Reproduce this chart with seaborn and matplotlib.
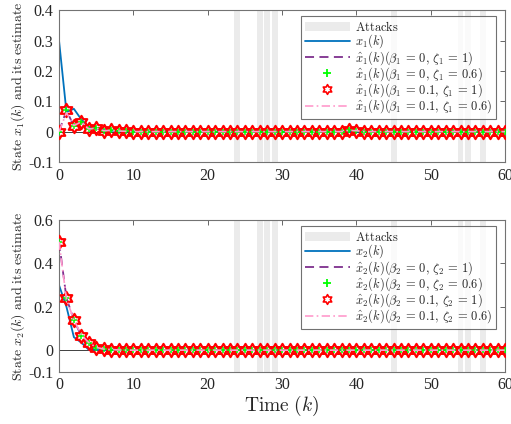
import numpy as np
import pandas as pd
import matplotlib
matplotlib.use("Agg")
import matplotlib.pyplot as plt
from matplotlib.path import Path
from matplotlib.lines import Line2D
from matplotlib.patches import Patch
import seaborn as sns

# time axis
k = list(range(61))

# attack instants (grey bands)
attacks = [24, 27, 28, 29, 45, 54, 55, 57]

# state 1 and its estimates
x1_true = [0.3, 0.065, 0.075, 0.04, 0.016, 0.01, 0.005, 0.003, 0.002, 0.001] + [0.0] * 51
x1_b0_z1 = [0.0, 0.07, 0.018, 0.033, 0.008, 0.012, 0.003, 0.004, 0.002, 0.001] + [0.0] * 29 + [0.004, 0.003] + [0.0] * 20
x1_b0_z06 = [0.0, 0.07, 0.018, 0.033, 0.008, 0.012, 0.003, 0.004, 0.002, 0.001] + [0.0] * 29 + [0.004, 0.003] + [0.0] * 20
x1_b01_z1 = [0.0, 0.07, 0.018, 0.033, 0.008, 0.012, 0.003, 0.004, 0.002, 0.001] + [0.0] * 29 + [0.004, 0.003] + [0.0] * 20
x1_b01_z06 = [0.0, 0.062, 0.02, 0.032, 0.009, 0.011, 0.003, 0.004, 0.002, 0.001] + [0.0] * 29 + [0.004, 0.003] + [0.0] * 20

# state 2 and its estimates
x2_true = [0.3, 0.2, 0.06, 0.035, 0.002, 0.001] + [0.0] * 55
x2_b0_z1 = [0.5, 0.24, 0.14, 0.065, 0.035, 0.012, 0.005, 0.003, 0.001] + [0.0] * 52
x2_b0_z06 = [0.5, 0.24, 0.14, 0.065, 0.035, 0.012, 0.005, 0.003, 0.001] + [0.0] * 52
x2_b01_z1 = [0.5, 0.24, 0.14, 0.065, 0.035, 0.012, 0.005, 0.003, 0.001] + [0.0] * 52
x2_b01_z06 = [0.5, 0.235, 0.14, 0.07, 0.035, 0.013, 0.005, 0.003, 0.001] + [0.0] * 52

y1_ticks = [-0.1, 0, 0.1, 0.2, 0.3, 0.4]
y1_labels = ["-0.1", "0", "0.1", "0.2", "0.3", "0.4"]
y2_ticks = [-0.1, 0, 0.2, 0.4, 0.6]
y2_labels = ["-0.1", "0", "0.2", "0.4", "0.6"]
x_ticks = [0, 10, 20, 30, 40, 50, 60]

sns.set_theme(style="white")
plt.rcParams["font.family"] = ["Liberation Serif", "DejaVu Serif"]
plt.rcParams["mathtext.fontset"] = "cm"

BLUE = (0.0, 0.447, 0.741)
PURPLE = (0.494, 0.184, 0.556)
GREEN = (0.0, 1.0, 0.0)
RED = (1.0, 0.0, 0.0)
PINK = (1.0, 0.6, 0.8)
GREY = (0.92, 0.92, 0.92)

hexagram = Path.unit_regular_star(6, 0.577)

fig = plt.figure(figsize=(5.11, 4.24), dpi=100)
ax1 = fig.add_axes([0.1155, 0.618, 0.873, 0.358])
ax2 = fig.add_axes([0.1155, 0.123, 0.873, 0.358])


def draw_panel(ax, i, true, e1, e2, e3, e4, yticks, ylabels, ylim):
    for a in attacks:
        ax.axvspan(a - 0.4, a + 0.4, color=GREY, lw=0, zorder=0)
    ax.axhline(0, color="0.25", lw=0.7, zorder=1)
    df = pd.DataFrame({"k": k, "true": true, "e1": e1, "e2": e2, "e3": e3, "e4": e4})
    sns.lineplot(data=df, x="k", y="true", ax=ax, color=BLUE, lw=1.3, zorder=2)
    sns.lineplot(data=df, x="k", y="e1", ax=ax, color=PURPLE, lw=1.3,
                 linestyle=(0, (5, 3)), zorder=3)
    sns.lineplot(data=df, x="k", y="e3", ax=ax, color=RED, linestyle="none",
                 marker=hexagram, markersize=9.5, markeredgecolor=RED,
                 markerfacecolor="none", markeredgewidth=1.6, zorder=4)
    sns.lineplot(data=df, x="k", y="e2", ax=ax, color=GREEN, linestyle="none",
                 marker="+", markersize=5, markeredgecolor=GREEN,
                 markeredgewidth=1.1, zorder=5)
    sns.lineplot(data=df, x="k", y="e4", ax=ax, color=PINK, lw=1.2,
                 linestyle=(0, (5, 2, 1, 2)), zorder=6)

    ax.set_xlim(0, 60)
    ax.set_ylim(*ylim)
    ax.set_xticks(x_ticks)
    ax.set_xticklabels([str(t) for t in x_ticks])
    ax.set_yticks(yticks)
    ax.set_yticklabels(ylabels)
    ax.tick_params(direction="in", top=True, right=True, length=3.5,
                   width=0.6, color="0.3", labelsize=11.5, pad=4)
    for s in ax.spines.values():
        s.set_color("0.45")
        s.set_linewidth(0.8)
    ax.set_xlabel("")
    ax.set_ylabel(r"$\mathrm{State}\ x_%d(k)\ \mathrm{and\ its\ estimate}$" % i,
                  fontsize=10, labelpad=1)

    sub = r"\beta_%d" % i
    zeta = r"\zeta_%d" % i
    handles = [
        Patch(facecolor=GREY, edgecolor="none"),
        Line2D([], [], color=BLUE, lw=1.3),
        Line2D([], [], color=PURPLE, lw=1.3, linestyle=(0, (5, 3))),
        Line2D([], [], color=GREEN, linestyle="none", marker="+", markersize=6,
               markeredgewidth=1.3),
        Line2D([], [], color=RED, linestyle="none", marker=hexagram, markersize=7,
               markerfacecolor="none", markeredgewidth=1.2),
        Line2D([], [], color=PINK, lw=1.2, linestyle=(0, (5, 2, 1, 2))),
    ]
    labels = [
        r"$\mathrm{Attacks}$",
        r"$x_%d(k)$" % i,
        r"$\hat{x}_%d(k)(%s\,=\,0,\,%s\,=\,1)$" % (i, sub, zeta),
        r"$\hat{x}_%d(k)(%s\,=\,0,\,%s\,=\,0.6)$" % (i, sub, zeta),
        r"$\hat{x}_%d(k)(%s\,=\,0.1,\,%s\,=\,1)$" % (i, sub, zeta),
        r"$\hat{x}_%d(k)(%s\,=\,0.1,\,%s\,=\,0.6)$" % (i, sub, zeta),
    ]
    leg = ax.legend(handles, labels, loc="upper right", fontsize=9,
                    bbox_to_anchor=(0.985, 0.975), frameon=True, fancybox=False,
                    handlelength=3.6, handletextpad=0.4, labelspacing=-0.12,
                    borderpad=0.3, borderaxespad=0.2)
    leg.get_frame().set_edgecolor("0.3")
    leg.get_frame().set_linewidth(0.8)


draw_panel(ax1, 1, x1_true, x1_b0_z1, x1_b0_z06, x1_b01_z1, x1_b01_z06,
           y1_ticks, y1_labels, (-0.1, 0.4))
draw_panel(ax2, 2, x2_true, x2_b0_z1, x2_b0_z06, x2_b01_z1, x2_b01_z06,
           y2_ticks, y2_labels, (-0.1, 0.6))
ax2.set_xlabel(r"$\mathrm{Time}\ (k)$", fontsize=14, labelpad=0)

fig.savefig("out.png", dpi=100)
